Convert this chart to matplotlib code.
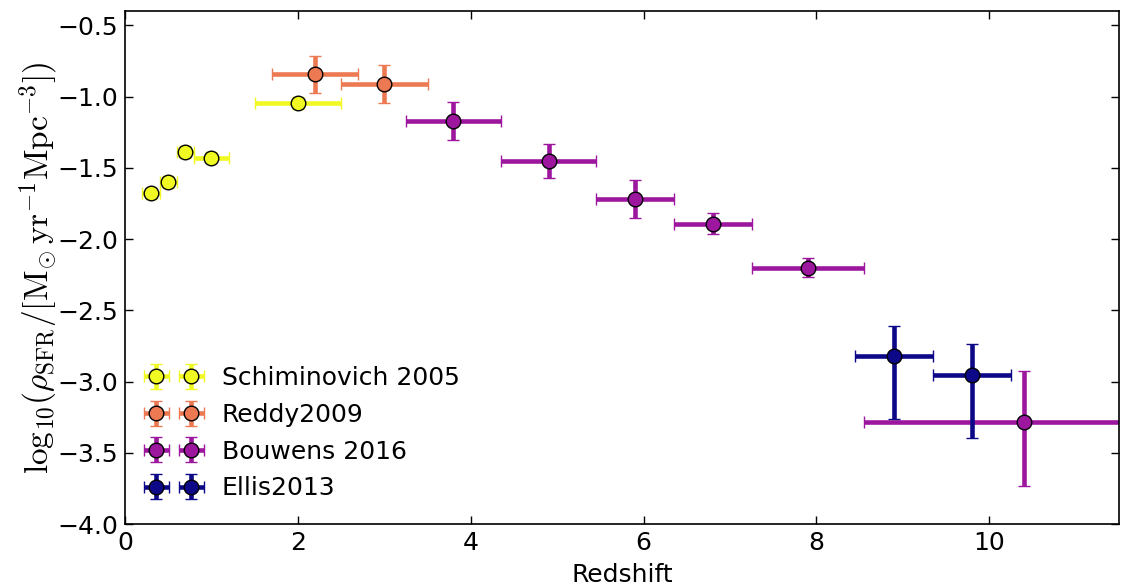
import numpy as np
import matplotlib
matplotlib.use('Agg')
import matplotlib.pyplot as plt

plt.rcParams['mathtext.fontset'] = 'cm'
plt.rcParams['font.family'] = 'DejaVu Sans'

# Schiminovich 2005
sch_z = [0.3, 0.5, 0.7, 1.0, 2.0]
sch_zerr = [0.1, 0.1, 0.1, 0.2, 0.5]
sch_sfr = [-1.68, -1.60, -1.39, -1.43, -1.045]
sch_err = [0.04, 0.04, 0.04, 0.04, 0.04]

# Reddy 2009
red_z = [2.2, 3.0]
red_zerr = [0.5, 0.5]
red_sfr = [-0.845, -0.913]
red_err = [0.13, 0.135]

# Bouwens 2016
bou_z = [3.8, 4.9, 5.9, 6.8, 7.9, 10.4]
bou_zerr = [0.55, 0.55, 0.45, 0.45, 0.65, 1.85]
bou_sfr = [-1.172, -1.453, -1.72, -1.894, -2.20, -3.284]
bou_err_lo = [0.13, 0.12, 0.135, 0.072, 0.068, 0.45]
bou_err_hi = [0.13, 0.12, 0.135, 0.075, 0.068, 0.36]

# Ellis 2013
ell_z = [8.9, 9.8]
ell_zerr = [0.45, 0.45]
ell_sfr = [-2.82, -2.955]
ell_err_lo = [0.44, 0.44]
ell_err_hi = [0.21, 0.22]

colors = plt.cm.plasma([1.0, 0.667, 0.333, 0.0])

fig = plt.figure(figsize=(11.22, 5.88), dpi=100)
ax = fig.add_axes([0.1114, 0.1088, 0.8859, 0.8725])

kw = dict(fmt='o', ms=10.5, mec='k', mew=1, elinewidth=3.3, capsize=4, capthick=1.5)
ax.errorbar(sch_z, sch_sfr, xerr=sch_zerr, yerr=sch_err, color=colors[0],
            label='Schiminovich 2005', **kw)
ax.errorbar(red_z, red_sfr, xerr=red_zerr, yerr=red_err, color=colors[1],
            label='Reddy2009', **kw)
ax.errorbar(bou_z, bou_sfr, xerr=bou_zerr, yerr=[bou_err_lo, bou_err_hi], color=colors[2],
            label='Bouwens 2016', **kw)
ax.errorbar(ell_z, ell_sfr, xerr=ell_zerr, yerr=[ell_err_lo, ell_err_hi], color=colors[3],
            label='Ellis2013', **kw)

ax.set_xlim(0, 11.5)
ax.set_ylim(-4.0, -0.4)
ax.set_yticks(np.arange(-4.0, -0.49, 0.5))
ax.tick_params(direction='in', top=True, right=True, labelsize=18, length=6, width=1, pad=5)
for s in ax.spines.values():
    s.set_linewidth(1.2)

ax.set_xlabel('Redshift', fontsize=18, labelpad=6)
ax.set_ylabel(r'$\mathrm{log}_{10}(\rho_\mathrm{SFR}/[\mathrm{M}_{\odot}\,\mathrm{yr}^{-1}\mathrm{Mpc}^{-3}])$',
              fontsize=24, labelpad=-2)

ax.legend(loc='lower left', numpoints=2, frameon=False, fontsize=18,
          handletextpad=0.92, borderaxespad=0.55, labelspacing=0.51, handlelength=2.0)

fig.savefig('out.png', dpi=100)
